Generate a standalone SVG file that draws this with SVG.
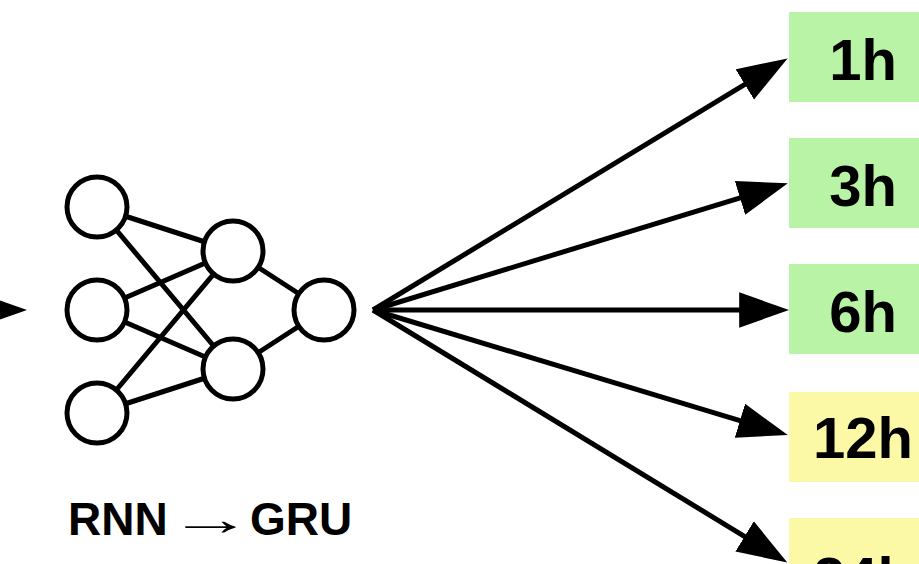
<svg xmlns="http://www.w3.org/2000/svg" width="919" height="564" viewBox="0 0 919 564">
  <defs>
    <style>
      .neuron { fill: #ffffff; stroke: #000000; stroke-width: 5; }
      .syn { stroke: #000000; stroke-width: 5; fill: none; }
      .arrow { stroke: #000000; stroke-width: 5; fill: none; marker-end: url(#head); }
      .good { fill: #b9f3a5; }
      .fair { fill: #fbf9a6; }
      .lbl { font-family: "Liberation Sans", Arial, sans-serif; font-weight: bold; font-size: 58px; fill: #000000; text-anchor: middle; }
      .cap { font-family: "Liberation Sans", Arial, sans-serif; font-weight: bold; font-size: 46px; fill: #000000; }
    </style>
    <marker id="head" markerUnits="userSpaceOnUse" markerWidth="50" markerHeight="36" viewBox="0 0 48 34" refX="20" refY="17" orient="auto">
      <path d="M0,0 L48,17 L0,34 z" fill="#000000"/>
    </marker>
  </defs>

  <rect width="919" height="564" fill="#ffffff"/>

  <!-- forecast horizon boxes -->
  <g id="h1"><rect class="good" x="789" y="12" width="140" height="90"/><text class="lbl" x="863" y="80">1h</text></g>
  <g id="h3"><rect class="good" x="789" y="138" width="140" height="90"/><text class="lbl" x="863" y="206">3h</text></g>
  <g id="h6"><rect class="good" x="789" y="264" width="140" height="90"/><text class="lbl" x="863" y="332">6h</text></g>
  <g id="h12"><rect class="fair" x="789" y="392" width="140" height="90"/><text class="lbl" x="863" y="458">12h</text></g>
  <g id="h24"><rect class="fair" x="789" y="518" width="140" height="90"/><text class="lbl" x="863" y="598">24h</text></g>

  <!-- connectors -->
  <g id="connectors">
    <!-- incoming arrow from the left -->
    <path class="arrow" d="M-60,310 L-2,310"/>
    <!-- network weights -->
    <path class="syn" d="M97,207 L233,251 M97,207 L233,369 M97,310 L233,251 M97,310 L233,369 M97,413 L233,251 M97,413 L233,369 M233,251 L324,310 M233,369 L324,310"/>
    <!-- fan-out to each horizon (lines stop inside the heads) -->
    <path class="arrow" d="M373,310 L762.6,73.6"/>
    <path class="arrow" d="M373,310 L759.9,191.8"/>
    <path class="arrow" d="M373,310 L760,310"/>
    <path class="arrow" d="M373,310 L759.9,426.7"/>
    <path class="arrow" d="M373,310 L762.4,547.3"/>
  </g>

  <!-- neurons -->
  <g id="in1"><circle class="neuron" cx="97" cy="207" r="30"/></g>
  <g id="in2"><circle class="neuron" cx="97" cy="310" r="30"/></g>
  <g id="in3"><circle class="neuron" cx="97" cy="413" r="30"/></g>
  <g id="hid1"><circle class="neuron" cx="233" cy="251" r="30"/></g>
  <g id="hid2"><circle class="neuron" cx="233" cy="369" r="30"/></g>
  <g id="out"><circle class="neuron" cx="324" cy="310" r="30"/></g>

  <!-- model caption -->
  <g id="caption">
    <text class="cap" x="68" y="535">RNN</text>
    <text class="cap" x="0" y="0" font-weight="normal" text-anchor="middle" transform="translate(210,535) scale(1.85,1)">→</text>
    <text class="cap" x="250" y="535">GRU</text>
  </g>
</svg>
